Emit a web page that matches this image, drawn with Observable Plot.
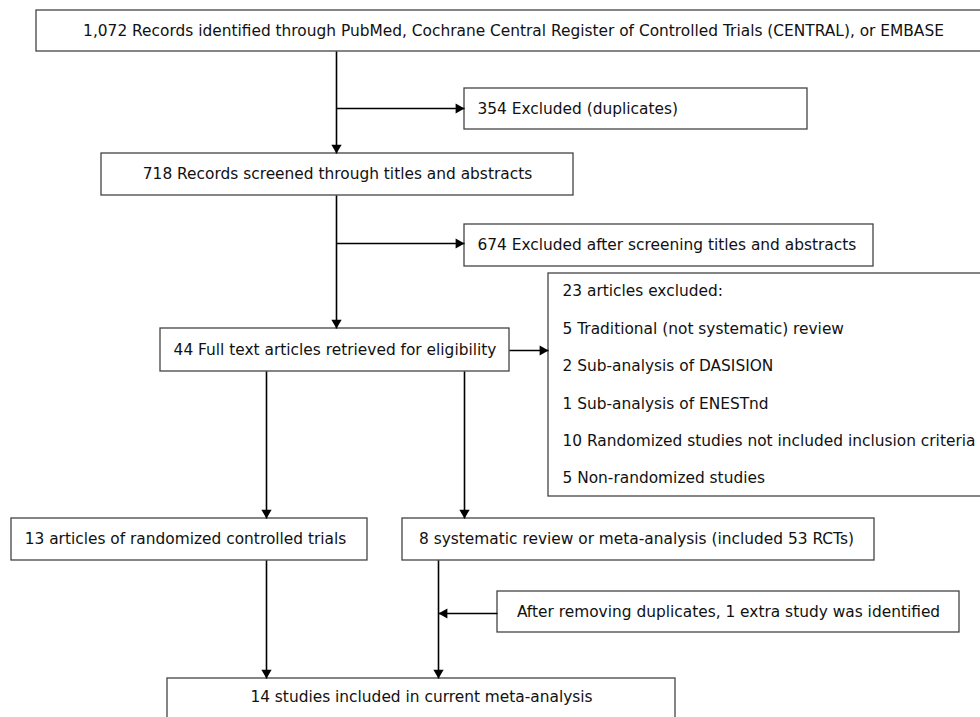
<!DOCTYPE html>
<html>
<head>
<meta charset="utf-8">
<script src="https://cdn.jsdelivr.net/npm/d3@7"></script>
<script src="https://cdn.jsdelivr.net/npm/@observablehq/plot@0.6"></script>
<style>
  html, body { margin: 0; padding: 0; background: #fff; }
  #chart svg { display: block; }
</style>
</head>
<body>
<div id="chart"></div>
<script>
// ---- content (data) ----
const boxLabels = [
  "1,072 Records identified through PubMed, Cochrane Central Register of Controlled Trials (CENTRAL), or EMBASE",
  "354 Excluded (duplicates)",
  "718 Records screened through titles and abstracts",
  "674 Excluded after screening titles and abstracts",
  "44 Full text articles retrieved for eligibility",
  "13 articles of randomized controlled trials",
  "8 systematic review or meta-analysis (included 53 RCTs)",
  "After removing duplicates, 1 extra study was identified",
  "14 studies included in current meta-analysis"
];
const exclusionLines = [
  "23 articles excluded:",
  "5 Traditional (not systematic) review",
  "2 Sub-analysis of DASISION",
  "1 Sub-analysis of ENESTnd",
  "10 Randomized studies not included inclusion criteria",
  "5 Non-randomized studies"
];

// ---- layout (pixel positions of the diagram) ----
const boxLayout = [
  {x1: 36,  x2: 986, y1: 10,  y2: 51,  anchor: "middle", textX: 513},
  {x1: 464, x2: 807, y1: 88,  y2: 129, anchor: "start"},
  {x1: 101, x2: 573, y1: 153, y2: 195, anchor: "middle"},
  {x1: 464, x2: 873, y1: 224, y2: 266, anchor: "start"},
  {x1: 160, x2: 509, y1: 328, y2: 371, anchor: "middle"},
  {x1: 11,  x2: 367, y1: 518, y2: 560, anchor: "middle", textX: 185},
  {x1: 402, x2: 874, y1: 518, y2: 560, anchor: "middle", textX: 636},
  {x1: 497, x2: 959, y1: 591, y2: 632, anchor: "middle"},
  {x1: 167, x2: 675, y1: 678, y2: 722, anchor: "middle", textY: 697}
];
const listBox = {x1: 548, x2: 986, y1: 273, y2: 496, textX: 562, firstY: 291, step: 37.4};

// connectors: [x1, y1, x2, y2, arrowhead at end?]
const connectors = [
  [336, 51, 336, 153, true],
  [336, 108, 464, 108, true],
  [336, 195, 336, 328, true],
  [336, 243, 464, 243, true],
  [509, 350, 548, 350, true],
  [266, 371, 266, 518, true],
  [464, 371, 464, 518, true],
  [266, 560, 266, 678, true],
  [438, 560, 438, 678, true],
  [497, 613, 438, 613, true]
];

const boxes = boxLabels.map((label, i) => {
  const b = boxLayout[i];
  return {
    label, ...b,
    tx: b.textX ?? (b.anchor === "start" ? b.x1 + 13 : (b.x1 + b.x2) / 2),
    ty: b.textY ?? (b.y1 + b.y2) / 2
  };
});
const allRects = [...boxes, listBox];
const listRows = exclusionLines.map((label, i) => ({label, tx: listBox.textX, ty: listBox.firstY + i * listBox.step}));
const segs = connectors.map(([x1, y1, x2, y2, head]) => ({x1, y1, x2, y2, head}));

const headR = 3.8;
const tipOffset = 2 * Math.sqrt((Math.PI * headR * headR) / (3 * Math.sqrt(3)));
const heads = segs.filter(d => d.head).map(d => {
  const dx = d.x2 - d.x1, dy = d.y2 - d.y1, len = Math.hypot(dx, dy);
  const ux = dx / len, uy = dy / len;
  const angle = Math.atan2(uy, ux) * 180 / Math.PI + 90;
  return {x: d.x2 - ux * tipOffset, y: d.y2 - uy * tipOffset, angle};
});

const FONT = "DejaVu Sans, Verdana, sans-serif";
const FS = 15.4;
const centered = boxes.filter(d => d.anchor === "middle");
const leftAligned = [...boxes.filter(d => d.anchor === "start"), ...listRows];

const chart = Plot.plot({
  width: 980,
  height: 717,
  margin: 0,
  x: {domain: [0, 980], axis: null},
  y: {domain: [0, 717], reverse: true, axis: null},
  style: {fontFamily: FONT, background: "#fff"},
  marks: [
    Plot.rect(allRects, {x1: "x1", x2: "x2", y1: "y1", y2: "y2", fill: "#fff", stroke: "#444", strokeWidth: 1.3}),
    Plot.link(segs, {x1: "x1", y1: "y1", x2: "x2", y2: "y2", stroke: "#000", strokeWidth: 1.6}),
    Plot.dot(heads, {x: "x", y: "y", symbol: "triangle", r: headR, rotate: "angle", fill: "#000", stroke: "none"}),
    Plot.text(centered, {x: "tx", y: "ty", text: "label", textAnchor: "middle", fontSize: FS, fill: "#111"}),
    Plot.text(leftAligned, {x: "tx", y: "ty", text: "label", textAnchor: "start", fontSize: FS, fill: "#111"})
  ]
});
document.getElementById("chart").appendChild(chart);
</script>
</body>
</html>
